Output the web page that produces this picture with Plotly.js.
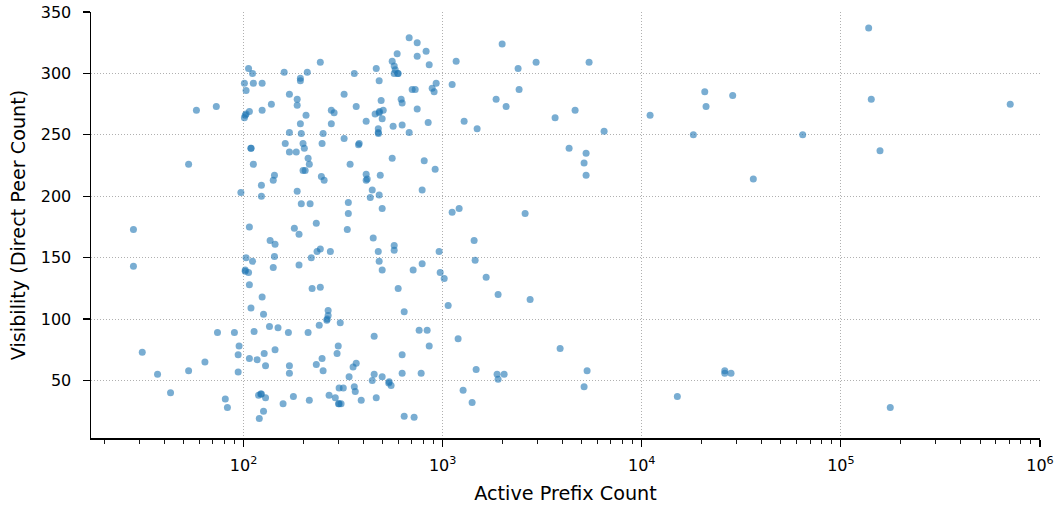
<!DOCTYPE html>
<html>
<head>
<meta charset="utf-8">
<script src="https://cdn.plot.ly/plotly-3.0.1.min.js"></script>
<style>html,body{margin:0;padding:0;background:#fff;}#chart{width:1055px;height:505px;}</style>
</head>
<body>
<div id="chart"></div>
<script>
// Active prefix count (x) for each network
const prefixCount = [
  106, 111, 160, 101, 112, 124, 103, 170, 58, 73,
  138, 103, 102, 107, 101, 124, 170, 109, 109, 162,
  170, 53, 112, 143, 141, 123, 97, 123, 28, 107,
  136, 144, 103, 111, 143, 141, 28, 102, 102, 106,
  107, 124, 109, 126, 135, 149, 113, 168, 74, 90,
  95, 94, 107, 117, 127, 144, 129, 170, 170, 31,
  64, 53, 37, 94, 43, 81, 83, 119, 123, 122,
  129, 158, 126, 120, 209, 243, 193, 193, 186, 186,
  206, 193, 195, 199, 184, 202, 211, 214, 199, 204,
  186, 195, 216, 180, 232, 332, 336, 336, 246, 254,
  248, 251, 276, 276, 285, 320, 360, 368, 320, 381,
  378, 343, 413, 413, 418, 443, 433, 480, 486, 497,
  558, 413, 464, 480, 491, 458, 480, 482, 503, 497,
  475, 475, 476, 564, 591, 558, 571, 578, 571, 598,
  595, 679, 745, 745, 826, 856, 619, 626, 703, 728,
  745, 626, 679, 846, 886, 906, 928, 808, 917, 789,
  1116, 1169, 1116, 1210, 190, 448, 219, 234, 243, 273,
  190, 221, 243, 266, 266, 263, 262, 240, 306, 211,
  475, 480, 497, 571, 571, 711, 789, 598, 641, 453,
  960, 972, 1018, 1066, 1196, 762, 836, 856, 299, 295,
  248, 232, 251, 368, 355, 339, 626, 626, 780, 453,
  443, 497, 539, 536, 551, 178, 214, 269, 302, 317,
  360, 364, 289, 302, 300, 309, 390, 464, 641, 719,
  1990, 2393, 2947, 5438, 2421, 1856, 2084, 1282, 1490, 3671,
  4626, 6469, 4316, 5253, 5133, 5253, 2595, 1439, 1456, 1654,
  1899, 2750, 3890, 1473, 1877, 2036, 1899, 5314, 5133, 1267,
  1406, 11010, 20720, 21030, 28620, 18160, 64300, 36330, 26110, 26110,
  28070, 15090, 137900, 142100, 157200, 177000, 708700
];
// Visibility (direct peer count) for each network, same order
const peerCount = [
  304, 300, 301, 292, 292, 292, 286, 283, 270, 273,
  275, 267, 266, 269, 264, 270, 252, 239, 239, 243,
  236, 226, 226, 217, 213, 209, 203, 200, 173, 175,
  164, 161, 150, 147, 151, 142, 143, 139, 140, 138,
  128, 118, 109, 104, 94, 93, 90, 89, 89, 89,
  78, 71, 68, 67, 72, 75, 62, 62, 56, 73,
  65, 58, 55, 57, 40, 35, 28, 38, 39, 39,
  36, 31, 25, 19, 301, 309, 296, 294, 279, 274,
  266, 259, 251, 243, 236, 239, 231, 226, 221, 221,
  204, 194, 194, 174, 178, 173, 186, 195, 216, 213,
  243, 251, 259, 270, 268, 283, 300, 273, 247, 243,
  242, 226, 218, 213, 214, 205, 199, 201, 217, 190,
  231, 261, 304, 294, 278, 267, 268, 269, 270, 263,
  255, 252, 251, 257, 316, 310, 306, 303, 300, 300,
  300, 329, 325, 314, 318, 307, 279, 276, 287, 287,
  271, 258, 252, 260, 288, 285, 292, 229, 222, 205,
  291, 310, 187, 190, 169, 166, 150, 155, 157, 155,
  144, 125, 126, 107, 103, 100, 99, 95, 97, 89,
  155, 147, 140, 160, 156, 140, 145, 125, 106, 86,
  155, 138, 133, 111, 84, 91, 91, 78, 78, 72,
  68, 63, 58, 64, 61, 53, 71, 56, 56, 55,
  50, 53, 49, 48, 46, 37, 34, 38, 44, 44,
  45, 41, 36, 31, 31, 31, 34, 36, 21, 20,
  324, 304, 309, 309, 287, 279, 273, 261, 255, 264,
  270, 253, 239, 235, 227, 217, 186, 164, 148, 134,
  120, 116, 76, 59, 55, 55, 51, 58, 45, 42,
  32, 266, 285, 273, 282, 250, 250, 214, 58, 56,
  56, 37, 337, 279, 237, 28, 275
];

const FONT = 'DejaVu Sans, sans-serif';

const trace = {
  type: 'scatter',
  mode: 'markers',
  x: prefixCount,
  y: peerCount,
  marker: {color: '#1f77b4', size: 7, opacity: 0.6, line: {width: 0}},
  hoverinfo: 'x+y'
};

const gridStyle = {showgrid: true, gridcolor: '#b0b0b0', griddash: '1px,2px', gridwidth: 1};

const layout = {
  width: 1055,
  height: 505,
  margin: {l: 91, r: 15, t: 12, b: 67, pad: 0},
  paper_bgcolor: '#fff',
  plot_bgcolor: '#fff',
  showlegend: false,
  font: {family: FONT, size: 16, color: '#000'},
  xaxis: Object.assign({
    type: 'log',
    range: [1.234, 6],
    dtick: 1,
    exponentformat: 'power',
    showline: true, linecolor: '#000', linewidth: 1.5, mirror: false,
    ticks: 'outside', ticklen: 7, tickwidth: 1.2, tickcolor: '#000',
    ticklabelstandoff: 6,
    minor: {ticks: 'outside', ticklen: 4, tickwidth: 0.9, tickcolor: '#000', showgrid: false},
    zeroline: false,
    tickfont: {family: FONT, size: 12.8, color: '#000'},
    title: {text: 'Active Prefix Count', font: {family: FONT, size: 19.2, color: '#000'}, standoff: 14}
  }, gridStyle),
  yaxis: Object.assign({
    range: [3.2, 350],
    tick0: 0,
    dtick: 50,
    showline: true, linecolor: '#000', linewidth: 1.5, mirror: false,
    ticks: 'outside', ticklen: 7, tickwidth: 1.2, tickcolor: '#000',
    ticklabelstandoff: 8,
    zeroline: false,
    tickfont: {family: FONT, size: 16, color: '#000'},
    title: {text: 'Visibility (Direct Peer Count)', font: {family: FONT, size: 19.2, color: '#000'}, standoff: 10}
  }, gridStyle)
};

Plotly.newPlot('chart', [trace], layout, {displayModeBar: false, staticPlot: true});
</script>
</body>
</html>
